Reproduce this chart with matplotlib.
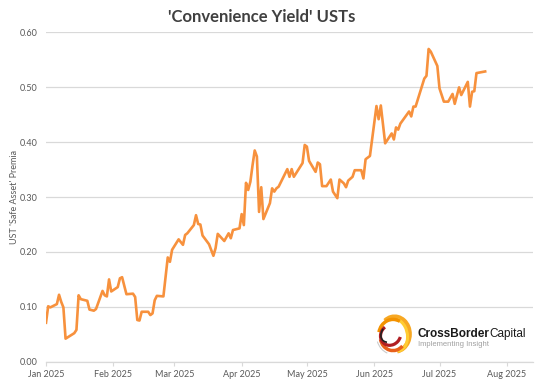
import matplotlib
matplotlib.use('Agg')
import matplotlib.pyplot as plt
import matplotlib.dates as mdates
from matplotlib.patches import Arc
import pandas as pd

# 'safe asset' premia
dates = ['2025-01-01', '2025-01-02', '2025-01-03', '2025-01-05', '2025-01-06',
         '2025-01-07', '2025-01-08', '2025-01-09', '2025-01-10', '2025-01-12',
         '2025-01-14', '2025-01-15', '2025-01-16', '2025-01-17', '2025-01-18',
         '2025-01-20', '2025-01-21', '2025-01-23', '2025-01-24', '2025-01-27',
         '2025-01-28', '2025-01-29', '2025-01-30', '2025-01-31', '2025-02-03',
         '2025-02-04', '2025-02-05', '2025-02-07', '2025-02-10', '2025-02-11',
         '2025-02-12', '2025-02-13', '2025-02-14', '2025-02-17', '2025-02-18',
         '2025-02-19', '2025-02-20', '2025-02-21', '2025-02-24', '2025-02-26',
         '2025-02-27', '2025-02-28', '2025-03-03', '2025-03-05', '2025-03-06',
         '2025-03-07', '2025-03-10', '2025-03-11', '2025-03-12', '2025-03-13',
         '2025-03-14', '2025-03-17', '2025-03-19', '2025-03-20', '2025-03-21',
         '2025-03-24', '2025-03-26', '2025-03-27', '2025-03-28', '2025-03-31',
         '2025-04-01', '2025-04-02', '2025-04-03', '2025-04-04', '2025-04-05',
         '2025-04-06', '2025-04-07', '2025-04-08', '2025-04-09', '2025-04-10',
         '2025-04-11', '2025-04-14', '2025-04-15', '2025-04-16', '2025-04-17',
         '2025-04-18', '2025-04-22', '2025-04-23', '2025-04-24', '2025-04-25',
         '2025-04-29', '2025-04-30', '2025-05-01', '2025-05-02', '2025-05-05',
         '2025-05-06', '2025-05-07', '2025-05-08', '2025-05-10', '2025-05-12',
         '2025-05-13', '2025-05-15', '2025-05-16', '2025-05-18', '2025-05-19',
         '2025-05-20', '2025-05-22', '2025-05-23', '2025-05-26', '2025-05-27',
         '2025-05-28', '2025-05-30', '2025-06-02', '2025-06-03', '2025-06-04',
         '2025-06-06', '2025-06-09', '2025-06-10', '2025-06-11', '2025-06-12',
         '2025-06-13', '2025-06-17', '2025-06-18', '2025-06-19', '2025-06-20',
         '2025-06-24', '2025-06-25', '2025-06-26', '2025-06-27', '2025-06-30',
         '2025-07-01', '2025-07-03', '2025-07-05', '2025-07-07', '2025-07-08',
         '2025-07-10', '2025-07-11', '2025-07-14', '2025-07-15', '2025-07-16',
         '2025-07-17', '2025-07-18', '2025-07-22']
premia = [0.071, 0.101, 0.099, 0.103, 0.105,
          0.122, 0.109, 0.099, 0.042, 0.047,
          0.052, 0.058, 0.121, 0.114, 0.113,
          0.111, 0.095, 0.093, 0.096, 0.129,
          0.121, 0.119, 0.150, 0.128, 0.136,
          0.152, 0.154, 0.123, 0.124, 0.118,
          0.076, 0.075, 0.091, 0.091, 0.085,
          0.088, 0.112, 0.120, 0.119, 0.190,
          0.182, 0.204, 0.223, 0.213, 0.231,
          0.234, 0.249, 0.267, 0.251, 0.250,
          0.230, 0.214, 0.193, 0.207, 0.233,
          0.220, 0.234, 0.225, 0.240, 0.243,
          0.269, 0.249, 0.326, 0.313, 0.328,
          0.358, 0.385, 0.374, 0.273, 0.318,
          0.260, 0.289, 0.316, 0.310, 0.316,
          0.319, 0.351, 0.337, 0.351, 0.337,
          0.362, 0.395, 0.392, 0.366, 0.346,
          0.363, 0.360, 0.320, 0.320, 0.332,
          0.310, 0.298, 0.332, 0.325, 0.318,
          0.330, 0.337, 0.349, 0.349, 0.334,
          0.369, 0.375, 0.466, 0.442, 0.467,
          0.398, 0.416, 0.405, 0.427, 0.423,
          0.434, 0.456, 0.447, 0.465, 0.465,
          0.516, 0.521, 0.570, 0.565, 0.539,
          0.498, 0.474, 0.474, 0.488, 0.470,
          0.500, 0.486, 0.510, 0.465, 0.492,
          0.493, 0.526, 0.529]

yticks = [0.0, 0.1, 0.2, 0.3, 0.4, 0.5, 0.6]

plt.rcParams['font.family'] = ['Lato', 'DejaVu Sans']

x = pd.to_datetime(dates)

fig = plt.figure(figsize=(5.46, 3.90), dpi=100)
ax = fig.add_axes([46/546, 1-361.7/390, (533-46)/546, (361.7-32.5)/390])

ax.plot(x, premia, color='#F7913D', lw=1.9, solid_joinstyle='round')

ax.set_ylim(0, 0.6)
ax.set_yticks(yticks)
ax.set_yticklabels(['%.2f' % v for v in yticks])
ax.set_xlim(pd.Timestamp('2025-01-01'), pd.Timestamp('2025-08-13'))
ax.xaxis.set_major_locator(mdates.MonthLocator())
ax.xaxis.set_major_formatter(mdates.DateFormatter('%b %Y'))

ax.grid(axis='y', color='#D9D9D9', lw=0.9)
ax.set_axisbelow(True)
for s in ['top', 'right', 'left']:
    ax.spines[s].set_visible(False)
ax.spines['bottom'].set_color('#D9D9D9')
ax.spines['bottom'].set_linewidth(0.9)
ax.tick_params(axis='y', length=0, labelsize=6.5, labelcolor='#595959', pad=6)
ax.tick_params(axis='x', length=3, color='#D9D9D9', labelsize=6.5,
               labelcolor='#595959', pad=3)

fig.text(15/546, 1-197/390, "UST 'Safe Asset' Premia", rotation=90, ha='center',
         va='center', fontsize=6.5, color='#595959')
fig.text(262/546, 1-17/390, "'Convenience Yield' USTs", ha='center', va='center',
         fontsize=12, fontweight='bold', color='#404040')

# logo
lax = fig.add_axes([374/546, 1-357/390, 38/546, 44/390])
lax.set_xlim(-1.2, 1.2)
lax.set_ylim(-1.2, 1.2)
lax.axis('off')
lax.add_patch(Arc((0.1, 0.05), 1.9, 1.9, angle=0, theta1=-80, theta2=130,
                  color='#F7A823', lw=3.2))
lax.add_patch(Arc((0.15, 0.0), 1.5, 1.8, angle=20, theta1=-100, theta2=60,
                  color='#FFCC33', lw=2.2))
lax.add_patch(Arc((0.0, 0.0), 1.8, 1.7, angle=0, theta1=60, theta2=170,
                  color='#F39200', lw=2.5))
lax.add_patch(Arc((0.0, -0.1), 1.6, 1.5, angle=0, theta1=190, theta2=320,
                  color='#E8601C', lw=2.5))
lax.add_patch(Arc((-0.15, 0.0), 1.3, 1.1, angle=20, theta1=110, theta2=330,
                  color='#B01E23', lw=2.3))
lax.add_patch(Arc((-0.2, 0.1), 1.2, 0.9, angle=30, theta1=120, theta2=220,
                  color='#222222', lw=1.2))
lax.add_patch(Arc((0.0, 0.0), 2.1, 2.1, angle=0, theta1=200, theta2=250,
                  color='#CCCCCC', lw=0.8))

fig.canvas.draw()
t1 = fig.text(417/546, 1-334/390, 'CrossBorder', fontsize=8.5, fontweight='bold',
              color='#1A1A1A', family='Liberation Sans', va='center')
bb = t1.get_window_extent(fig.canvas.get_renderer())
fig.text(bb.x1/546 + 0.001, 1-334/390, 'Capital', fontsize=8.5, color='#1A1A1A',
         family='Liberation Sans', va='center')
fig.text(418/546, 1-344/390, 'Implementing Insight', fontsize=5.5, color='#A0A0A0',
         family='Liberation Sans', va='center')

fig.savefig('out.png', dpi=100)
